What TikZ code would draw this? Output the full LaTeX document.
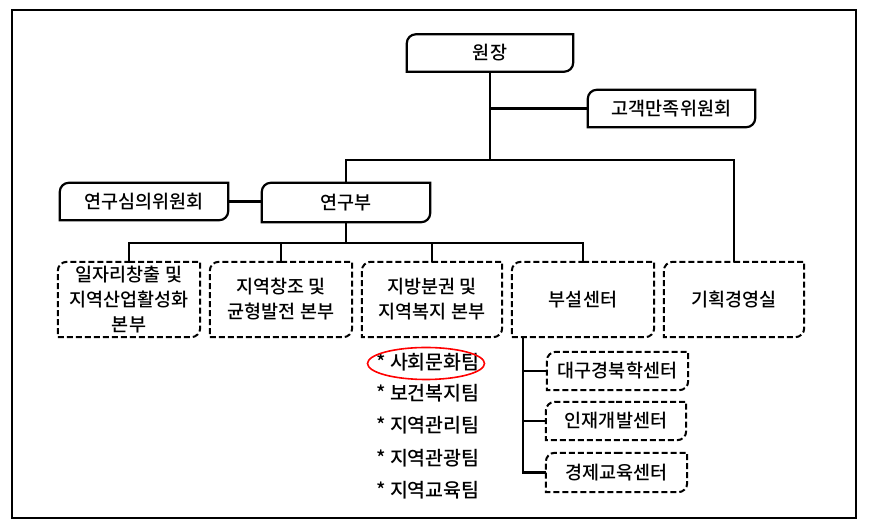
\documentclass[tikz,border=0pt]{standalone}
\usepackage{fontspec}
\setmainfont{Noto Sans CJK KR Medium}
\usetikzlibrary{calc,shapes.geometric}
\newlength\rr
\setlength\rr{9pt}
\newcommand\dgbox[2][]{\draw[#1] (#2.north) -- (#2.north east) -- ([yshift=\rr]#2.south east) arc[start angle=0,end angle=-90,radius=\rr] -- (#2.south west) -- ([yshift=-\rr]#2.north west) arc[start angle=180,end angle=90,radius=\rr] -- cycle;}
\begin{document}
\begin{tikzpicture}[x=1pt,y=1pt,
  lbl/.style={inner sep=0pt,align=center,font=\fontsize{18.5}{25}\selectfont},
  solidb/.style={line width=2.2pt},
  dashb/.style={line width=2pt,dash pattern=on 6pt off 3pt},
  conn/.style={line width=2.3pt},
  team/.style={anchor=west,inner sep=0pt,font=\fontsize{19.5}{20}\selectfont}]
\useasboundingbox (0,0) rectangle (872,529);
\draw[line width=1.3pt] (12,11) rectangle (856,519);
% nodes
\node[lbl,minimum width=166pt,minimum height=37pt] (wj) at (490,476) {원장};
\node[lbl,minimum width=167pt,minimum height=37pt] (gg) at (671.5,420.5) {고객만족위원회};
\node[lbl,minimum width=168pt,minimum height=37pt] (ys) at (144,327.5) {연구심의위원회};
\node[lbl,minimum width=168pt,minimum height=39pt] (yb) at (346,326.5) {연구부};
\node[lbl,minimum width=142pt,minimum height=75pt] (d1) at (129,229.5) {일자리창출 및\\지역산업활성화\\본부};
\node[lbl,minimum width=142pt,minimum height=75pt] (d2) at (281,229.5) {지역창조 및\\균형발전 본부};
\node[lbl,minimum width=140pt,minimum height=75pt] (d3) at (432,229.5) {지방분권 및\\지역복지 본부};
\node[lbl,minimum width=142pt,minimum height=75pt] (d4) at (583,229.5) {부설센터};
\node[lbl,minimum width=140pt,minimum height=75pt] (d5) at (734,229.5) {기획경영실};
\node[lbl,minimum width=141pt,minimum height=38pt] (s1) at (617.5,158) {대구경북학센터};
\node[lbl,minimum width=140pt,minimum height=38pt] (s2) at (616,108) {인재개발센터};
\node[lbl,minimum width=141pt,minimum height=39pt] (s3) at (616.5,56.5) {경제교육센터};
\node[team] (t1) at (376,167) {* 사회문화팀};
\node[team] (t2) at (376,136) {* 보건복지팀};
\node[team] (t3) at (376,104) {* 지역관리팀};
\node[team] (t4) at (376,71) {* 지역관광팀};
\node[team] (t5) at (376,39) {* 지역교육팀};
\node[draw=red,line width=1.6pt,ellipse,minimum width=117pt,minimum height=32pt,inner sep=0pt] (el) at (426,165.5) {};
% boxes
\foreach \n in {wj,gg,ys,yb} {\dgbox[solidb]{\n}}
\foreach \n in {d1,d2,d3,d4,d5,s1,s2,s3} {\dgbox[dashb]{\n}}
% connectors
\coordinate (j1) at (490,369);
\coordinate (j2) at (346,286);
\coordinate (sb) at (523,56.5);
\draw[conn] (wj.south) -- (j1);
\draw[conn] (gg.west) -- (gg.west -| wj.south);
\draw[conn] (yb.north) |- (j1) -| (d5.north);
\draw[conn] (ys.east) -- (ys.east -| yb.west);
\draw[conn] (yb.south) -- (j2);
\draw[conn] (d1.north) |- (j2) -| (d4.north);
\draw[conn] (d2.north) -- (d2.north |- j2);
\draw[conn] (d3.north) -- (d3.north |- j2);
\draw[conn] (d4.south -| sb) -- (sb) -- (s3.west);
\draw[conn] (s1.west) -- (s1.west -| sb);
\draw[conn] (s2.west) -- (s2.west -| sb);
\end{tikzpicture}
\end{document}
